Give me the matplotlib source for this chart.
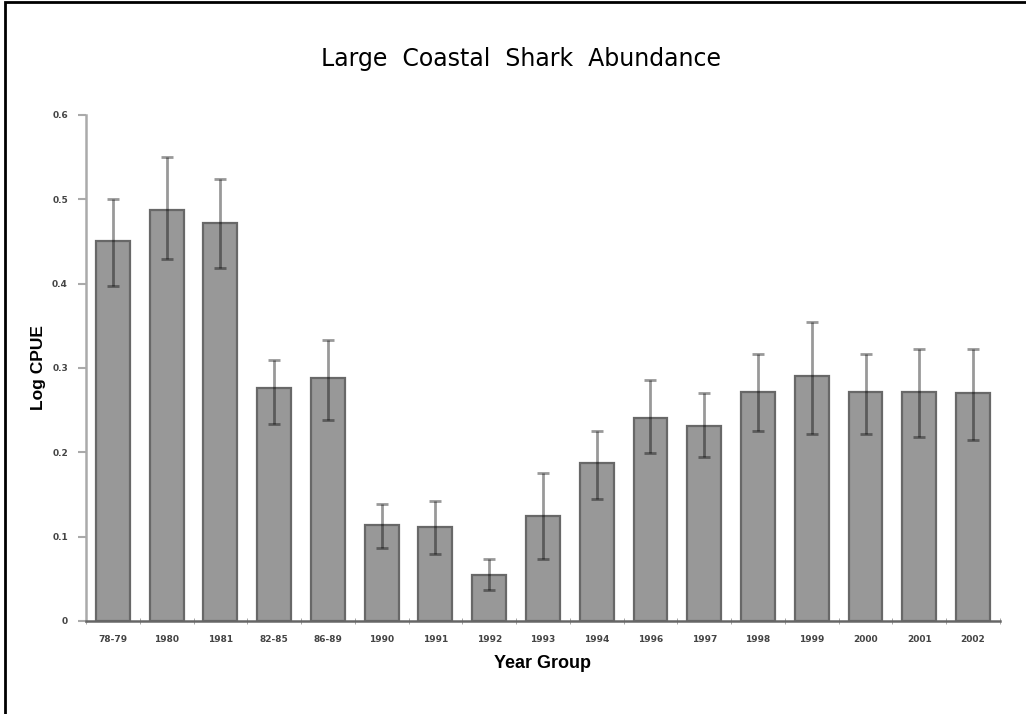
import numpy as np
import matplotlib
matplotlib.use("Agg")
import matplotlib.pyplot as plt
from matplotlib.patches import Rectangle

groups = ["78-79", "1980", "1981", "82-85", "86-89", "1990", "1991", "1992",
          "1993", "1994", "1996", "1997", "1998", "1999", "2000", "2001", "2002"]
cpue = [0.451, 0.487, 0.472, 0.276, 0.288, 0.114, 0.111, 0.054,
        0.125, 0.187, 0.241, 0.231, 0.272, 0.290, 0.272, 0.272, 0.270]
cpue_low = [0.397, 0.429, 0.419, 0.234, 0.238, 0.087, 0.079, 0.037,
            0.073, 0.145, 0.199, 0.194, 0.225, 0.222, 0.222, 0.218, 0.215]
cpue_high = [0.500, 0.550, 0.524, 0.310, 0.333, 0.139, 0.142, 0.073,
             0.176, 0.225, 0.286, 0.270, 0.316, 0.355, 0.316, 0.323, 0.323]

y = np.array(cpue)
yerr = np.array([y - np.array(cpue_low), np.array(cpue_high) - y])
x = np.arange(len(groups))

fig = plt.figure(figsize=(10.26, 7.14), dpi=100)
ax = fig.add_axes([0.0838, 0.1303, 0.8908, 0.7087])

ax.bar(x, y, width=0.63, color="#989898", edgecolor="#686868", linewidth=1.6, zorder=2)
ax.errorbar(x, y, yerr=yerr, fmt="none", ecolor=(0, 0, 0, 0.4),
            elinewidth=2, capsize=4.5, capthick=2, zorder=3)

ax.set_xlim(-0.5, len(groups) - 0.5)
ax.set_ylim(0, 0.6)
ax.set_yticks([0, 0.1, 0.2, 0.3, 0.4, 0.5, 0.6])
ax.set_yticklabels(["0", "0.1", "0.2", "0.3", "0.4", "0.5", "0.6"],
                   fontsize=6.5, fontweight="bold", color="#444444")
ax.set_xticks(x)
ax.set_xticklabels(groups, fontsize=6.5, fontweight="bold", color="#444444")
ax.tick_params(axis="x", length=0, pad=10)
ax.set_xticks(np.arange(len(groups) + 1) - 0.5, minor=True)
ax.tick_params(axis="x", which="minor", length=4, color="#999999", direction="inout")
ax.tick_params(axis="y", length=6, color="#aaaaaa", width=1.5, pad=7)

for s in ["top", "right"]:
    ax.spines[s].set_visible(False)
ax.spines["left"].set_color("#aaaaaa")
ax.spines["left"].set_linewidth(1.8)
ax.spines["bottom"].set_color("#666666")
ax.spines["bottom"].set_linewidth(1.8)

ax.set_xlabel("Year Group", fontsize=13, fontweight="bold", family="Liberation Sans",
              labelpad=8)
ax.set_ylabel("Log CPUE", fontsize=12.5, fontweight="bold", family="Liberation Sans",
              labelpad=4)

fig.text(0.508, 0.918, "Large  Coastal  Shark  Abundance", ha="center", va="center",
         fontsize=17, family="DejaVu Sans")

# frame around the chart area
fig.patches.append(Rectangle((5 / 1026, -0.2), 1.2, 0.2 + 712 / 714,
                             transform=fig.transFigure, fill=False,
                             edgecolor="black", linewidth=2))

fig.savefig("out.png", dpi=100)
